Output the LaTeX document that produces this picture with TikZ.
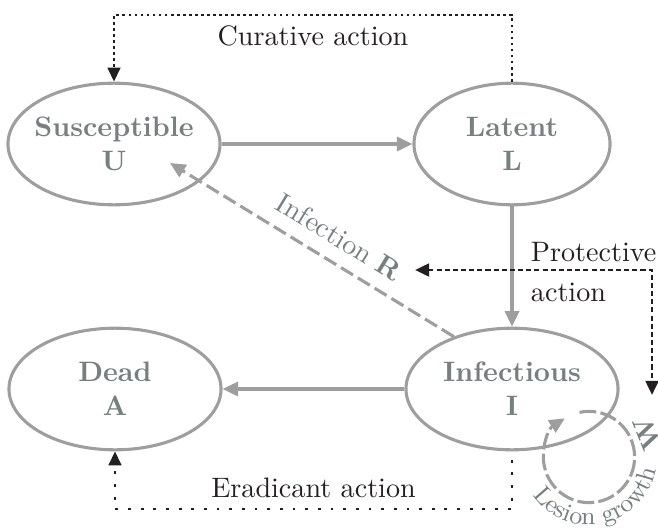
\documentclass[tikz,border=0pt]{standalone}
\usepackage{tikz}
\usetikzlibrary{arrows.meta}
\usetikzlibrary{shapes}
\usetikzlibrary{decorations.text}
\definecolor{edgegray}{RGB}{158,158,158}
\definecolor{labgray}{RGB}{118,128,128}
\definecolor{txtblack}{RGB}{35,31,32}
\tikzstyle{state}=[shape=ellipse,draw=edgegray,line width=1.1pt,inner xsep=-3pt,inner ysep=0pt,minimum width=2.65cm,minimum height=1.52cm,align=center,text=labgray,font=\bfseries]
\tikzstyle{tran}=[draw=edgegray,line width=1.1pt,-{Triangle[width=5pt,length=5.5pt]}]
\tikzstyle{infc}=[tran,dash pattern=on 5pt off 2pt]
\tikzstyle{lesion}=[tran,dash pattern=on 6pt off 1.5pt]
\tikzstyle{act}=[draw=txtblack,line width=0.95pt,dash pattern=on 0.95pt off 1.2pt,-{Triangle[width=4.5pt,length=5pt]}]
\tikzstyle{erad}=[act,dash pattern=on 1pt off 3.5pt]
\tikzstyle{prot}=[draw=txtblack,line width=1pt,dash pattern=on 1.8pt off 1.1pt,{Triangle[width=4.5pt,length=5pt]}-{Triangle[width=4.5pt,length=5pt]}]
\tikzstyle{lab}=[text=txtblack]

\begin{document}
\begin{tikzpicture}[x=0.0125cm,y=0.0125cm]
\useasboundingbox (0,0) rectangle (658,529);

\node[state] (sus) at (114,385) {Susceptible\\U};
\node[state,minimum width=2.45cm] (lat) at (512,385) {Latent\\L};
\node[state] (dead) at (115,140) {Dead\\A};
\node[state] (inf) at (512,140) {Infectious\\I};

\draw[tran] (sus) -- (lat);
\draw[tran] (lat) -- (inf);
\draw[tran] (inf) -- (dead);

\coordinate (utip) at (170,366);
\draw[infc] (inf.138) -- node[sloped,above=1.5pt,pos=0.45,text=labgray] (infr) {Infection \textbf{R}} (utip);

\coordinate (dum1) at (0,514);
\coordinate (dum2) at (0,20);

\draw[act] (lat) -- (lat|-dum1) -- node[lab,below] (cur) {Curative action} (sus|-dum1) -- (sus);
\draw[erad,shorten <=3pt] (inf) -- (inf|-dum2) -- node[lab,above] (era) {Eradicant action} (dead|-dum2) -- (dead);

\coordinate (ptip) at (415,259);
\coordinate (wtip) at (652,134);
\draw[prot] (ptip) -| (wtip);
\node[lab,anchor=west,align=left] (pro) at (521,257) {Protective\\[2pt]action};

\coordinate (lg) at (589,72);
\draw[lesion] ([shift={(102:0.57cm)}]lg) arc[start angle=102,end angle=-238,radius=0.57cm];
\path[decorate,decoration={text along path,text color=labgray,text align=center,
text={|\small|Lesion growth}}] ([shift={(208:0.85cm)}]lg) arc[start angle=208,end angle=356,radius=0.85cm];
\node[text=labgray,font=\bfseries,rotate=112] (w) at ([shift={(22:0.79cm)}]lg) {W};
\end{tikzpicture}
\end{document}
